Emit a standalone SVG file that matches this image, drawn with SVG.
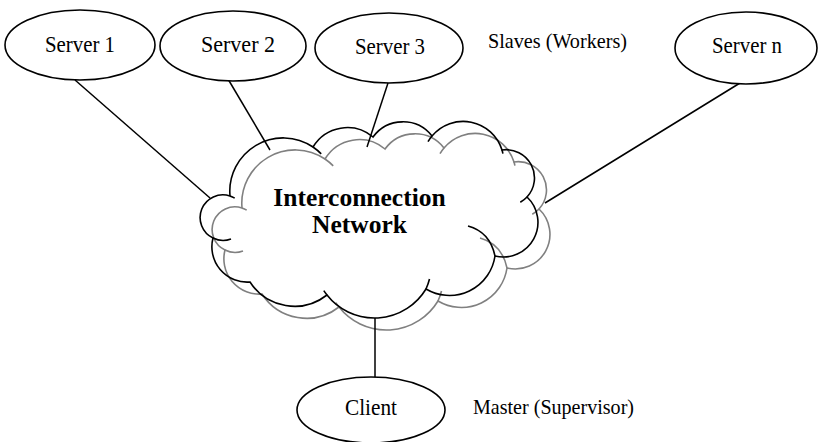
<svg xmlns="http://www.w3.org/2000/svg" xmlns:xlink="http://www.w3.org/1999/xlink" width="819" height="442" viewBox="0 0 819 442">
<style>
  .node { fill: #fff; stroke: #000; stroke-width: 1.6; }
  .lbl { font-family: "Liberation Serif", "Times New Roman", serif; fill: #000; text-anchor: middle; }
  .note { font-family: "Liberation Serif", "Times New Roman", serif; fill: #000; }
  .bold { font-family: "Liberation Serif", "Times New Roman", serif; font-weight: bold; font-size: 25.5px; text-anchor: middle; fill: #000; }
  .conn line { stroke: #000; stroke-width: 1.5; }
</style>
<defs>
  <g id="cloudShape" fill="none">
    <path d="M 230 196 A 53.4 53.4 0 0 1 313 147 A 40 40 0 0 1 373 137 A 37 37 0 0 1 432 136 A 40.6 40.6 0 0 1 502 150 A 28.2 28.2 0 0 1 527 197 A 34.7 34.7 0 0 1 495 256 A 46 46 0 0 1 426 289 A 60.3 60.3 0 0 1 327 295 A 52.8 52.8 0 0 1 250 282 A 35.3 35.3 0 0 1 213 238 A 22.7 22.7 0 0 1 230 196 Z"/>
    <path d="M 313 147 A 53.4 53.4 0 0 1 321.2 153.9 M 230 196 A 22.7 22.7 0 0 1 234.7 198.1 M 428 141.7 A 40.6 40.6 0 0 1 432 136 M 502 150 A 40.6 40.6 0 0 1 502.9 153.6 M 527 197 A 28.2 28.2 0 0 1 520.3 202.3 M 468 226 Q 490 232 495 256 M 429.5 279 A 60.3 60.3 0 0 1 426 289 M 327 295 A 60.3 60.3 0 0 1 323.8 290.6 M 231 239 A 22.7 22.7 0 0 1 213 238"/>
  </g>
</defs>

<g id="cloud">
  <use xlink:href="#cloudShape" href="#cloudShape" transform="translate(12,12)" stroke="#808080" stroke-width="1.6"/>
  <use xlink:href="#cloudShape" href="#cloudShape" stroke="#000" stroke-width="1.6"/>
  <text class="bold" x="359.5" y="206">Interconnection</text>
  <text class="bold" x="359.5" y="233">Network</text>
</g>

<g class="conn" id="connectors">
  <line x1="75" y1="80" x2="210" y2="198"/>
  <line x1="228" y1="79" x2="270" y2="150"/>
  <line x1="388" y1="83" x2="367" y2="147"/>
  <line x1="740" y1="83" x2="545" y2="203"/>
  <line x1="375" y1="318" x2="375" y2="377"/>
</g>

<g id="server1">
  <ellipse class="node" cx="80" cy="45" rx="75" ry="35"/>
  <text class="lbl" x="80" y="52" font-size="24" textLength="70" lengthAdjust="spacingAndGlyphs">Server 1</text>
</g>
<g id="server2">
  <ellipse class="node" cx="233" cy="46" rx="73" ry="35"/>
  <text class="lbl" x="238" y="52" font-size="24" textLength="74" lengthAdjust="spacingAndGlyphs">Server 2</text>
</g>
<g id="server3">
  <ellipse class="node" cx="389" cy="48" rx="74" ry="35"/>
  <text class="lbl" x="390" y="54" font-size="24" textLength="70" lengthAdjust="spacingAndGlyphs">Server 3</text>
</g>
<g id="servern">
  <ellipse class="node" cx="746" cy="48" rx="71" ry="36"/>
  <text class="lbl" x="747" y="53" font-size="24" textLength="70" lengthAdjust="spacingAndGlyphs">Server n</text>
</g>
<g id="client">
  <ellipse class="node" cx="371" cy="410" rx="74" ry="33"/>
  <text class="lbl" x="371" y="415" font-size="24" textLength="52" lengthAdjust="spacingAndGlyphs">Client</text>
</g>

<text class="note" x="488" y="48" font-size="22" textLength="139" lengthAdjust="spacingAndGlyphs">Slaves (Workers)</text>
<text class="note" x="473" y="414" font-size="21" textLength="161" lengthAdjust="spacingAndGlyphs">Master (Supervisor)</text>
</svg>
